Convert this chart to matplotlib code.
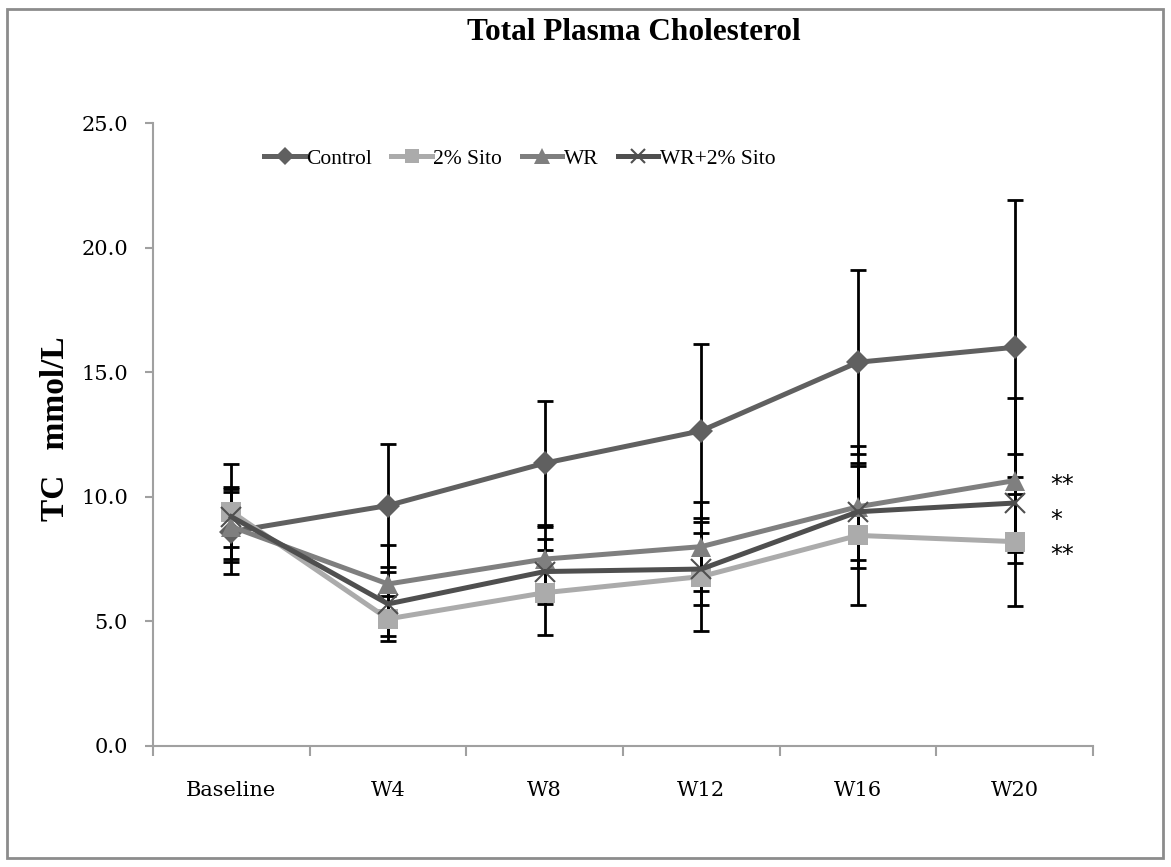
import matplotlib.pyplot as plt
from matplotlib.patches import Rectangle

# Total plasma cholesterol (mmol/L), mean and SD per group
weeks = ['Baseline', 'W4', 'W8', 'W12', 'W16', 'W20']

control = [8.6, 9.65, 11.35, 12.65, 15.4, 16.0]
control_sd = [1.7, 2.45, 2.5, 3.5, 3.7, 5.9]

sito = [9.4, 5.1, 6.15, 6.8, 8.45, 8.2]
sito_sd = [1.9, 0.9, 1.7, 2.2, 2.8, 2.6]

wr = [8.8, 6.5, 7.5, 8.0, 9.6, 10.65]
wr_sd = [1.4, 1.55, 1.3, 1.8, 2.45, 3.3]

wr_sito = [9.2, 5.7, 7.0, 7.1, 9.4, 9.75]
wr_sito_sd = [1.2, 1.3, 1.3, 1.45, 1.95, 1.95]

stars = ['**', '*', '**']
star_y = [10.47, 9.07, 7.66]

plt.rcParams['font.family'] = ['DejaVu Serif']

fig = plt.figure(figsize=(11.71, 8.67), dpi=100)
ax = fig.add_axes([0.1307, 0.1396, 0.8027, 0.7185])

# outer chart border
fig.patches.append(Rectangle((0.006, 0.01), 0.987, 0.98, transform=fig.transFigure,
                             fill=False, edgecolor='#8c8c8c', linewidth=2))

x = list(range(len(weeks)))
series = [
    ('Control', control, control_sd, '#606060', 'D', 12),
    ('2% Sito', sito, sito_sd, '#ababab', 's', 14),
    ('WR', wr, wr_sd, '#7f7f7f', '^', 15),
    ('WR+2% Sito', wr_sito, wr_sito_sd, '#4f4f4f', 'x', 14),
]

for name, vals, sd, col, mk, ms in series:
    ax.errorbar(x, vals, yerr=sd, fmt='none', ecolor='black', elinewidth=2,
                capsize=6, capthick=2, zorder=2)
    ax.plot(x, vals, color=col, linewidth=3.6, marker=mk, markersize=ms,
            markeredgewidth=1.5 if mk == 'x' else 0, markeredgecolor=col,
            label=name, zorder=3)

ax.set_xlim(-0.5, len(weeks) - 0.5)
ax.set_ylim(0, 25)
ax.set_yticks([0, 5, 10, 15, 20, 25])
ax.set_yticklabels([f'{v:.1f}' for v in [0, 5, 10, 15, 20, 25]])
ax.set_xticks(x)
ax.set_xticklabels(weeks)
ax.set_xticks([i - 0.5 for i in range(len(weeks) + 1)], minor=True)
ax.tick_params(axis='x', which='major', length=0, pad=25, labelsize=15)
ax.tick_params(axis='x', which='minor', length=7, width=1.5, color='#a0a0a0')
ax.tick_params(axis='y', length=6, width=1.5, color='#a0a0a0', labelsize=15, pad=12)

for s in ['top', 'right']:
    ax.spines[s].set_visible(False)
for s in ['left', 'bottom']:
    ax.spines[s].set_color('#a0a0a0')
    ax.spines[s].set_linewidth(1.5)

for txt, yv in zip(stars, star_y):
    ax.text(5.23, yv, txt, fontsize=17, va='center', ha='left',
            family=['DejaVu Sans'])

fig.text(0.541, 0.963, 'Total Plasma Cholesterol', ha='center', va='center',
         fontsize=22.5, fontweight='bold', family=['Liberation Serif'])
fig.text(0.047, 0.505, 'TC   mmol/L', ha='center', va='center', rotation=90,
         fontsize=24, fontweight='bold', family=['Liberation Serif'])

ax.legend(loc='center', bbox_to_anchor=(0.39, 0.943), ncol=4, frameon=False,
          prop={'family': 'Liberation Serif', 'size': 15.5}, markerscale=0.75,
          handlelength=1.9, handletextpad=0.05, columnspacing=0.9)

fig.savefig('out.png', dpi=100)
